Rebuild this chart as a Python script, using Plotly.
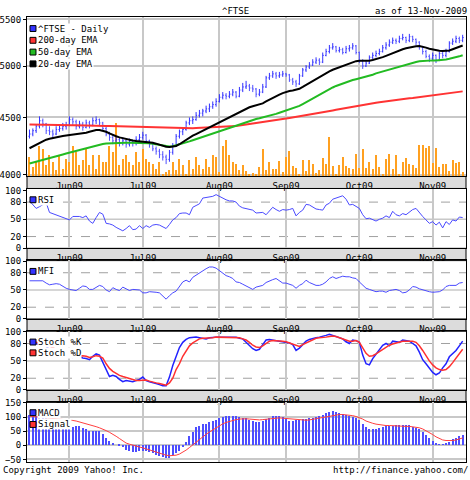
import math
import pandas as pd
import plotly.graph_objects as go

# ---------------- data ----------------
holidays = ["2009-05-25", "2009-08-31"]
dates = [d.strftime("%Y-%m-%d") for d in pd.bdate_range("2009-05-13", "2009-11-13")]
dates = [d for d in dates if d not in holidays]

month_ticks = ["2009-06-01", "2009-07-01", "2009-08-03", "2009-09-01", "2009-10-01", "2009-11-02"]
month_labels = ["Jun09", "Jul09", "Aug09", "Sep09", "Oct09", "Nov09"]

price_open = [
    4330, 4350, 4380, 4420, 4470, 4440, 4380, 4370, 4350, 4390,
    4400, 4420, 4430, 4480, 4460, 4420, 4440, 4410, 4450, 4430,
    4470, 4480, 4450, 4400, 4350, 4320, 4290, 4300, 4270, 4290,
    4260, 4280, 4270, 4300, 4320, 4340, 4290, 4260, 4220, 4200,
    4170, 4150, 4130, 4190, 4250, 4330, 4370, 4390, 4450, 4470,
    4480, 4520, 4540, 4560, 4580, 4600, 4620, 4650, 4690, 4710,
    4700, 4720, 4740, 4700, 4760, 4790, 4800, 4780, 4770, 4720,
    4740, 4790, 4880, 4900, 4920, 4900, 4910, 4920, 4910, 4860,
    4840, 4820, 4900, 4960, 4990, 5010, 5040, 5060, 5040, 5110,
    5150, 5190, 5200, 5160, 5170, 5140, 5180, 5190, 5210, 5140,
    5050, 5000, 5030, 5090, 5110, 5130, 5150, 5190, 5220, 5250,
    5270, 5260, 5290, 5300, 5270, 5310, 5280, 5250, 5200, 5150,
    5100, 5080, 5110, 5060, 5130, 5110, 5150, 5240, 5260, 5290, 5270]
price_high = [
    4390, 4400, 4440, 4510, 4490, 4450, 4420, 4390, 4420, 4430,
    4450, 4460, 4510, 4500, 4480, 4470, 4460, 4480, 4470, 4500,
    4510, 4490, 4460, 4420, 4370, 4340, 4330, 4320, 4320, 4300,
    4310, 4300, 4330, 4350, 4370, 4350, 4300, 4280, 4240, 4220,
    4200, 4170, 4210, 4270, 4350, 4390, 4410, 4470, 4500, 4510,
    4550, 4570, 4580, 4610, 4630, 4650, 4680, 4720, 4740, 4730,
    4750, 4770, 4750, 4790, 4830, 4850, 4820, 4810, 4780, 4770,
    4820, 4900, 4930, 4950, 4940, 4940, 4950, 4930, 4920, 4880,
    4860, 4920, 4980, 5010, 5040, 5070, 5090, 5080, 5140, 5180,
    5220, 5240, 5210, 5200, 5190, 5210, 5220, 5240, 5220, 5150,
    5070, 5060, 5110, 5140, 5160, 5180, 5220, 5250, 5280, 5300,
    5290, 5320, 5340, 5310, 5340, 5320, 5290, 5260, 5210, 5170,
    5120, 5140, 5120, 5150, 5150, 5180, 5260, 5290, 5320, 5310, 5330]
price_low = [
    4310, 4330, 4360, 4400, 4410, 4350, 4340, 4320, 4340, 4370,
    4380, 4390, 4420, 4430, 4390, 4400, 4380, 4400, 4400, 4420,
    4440, 4420, 4380, 4330, 4290, 4260, 4270, 4240, 4250, 4230,
    4240, 4240, 4250, 4280, 4300, 4270, 4230, 4200, 4170, 4140,
    4120, 4090, 4110, 4170, 4240, 4310, 4340, 4380, 4430, 4440,
    4470, 4500, 4510, 4540, 4550, 4580, 4600, 4640, 4670, 4670,
    4680, 4700, 4680, 4690, 4740, 4770, 4750, 4740, 4690, 4700,
    4730, 4780, 4860, 4880, 4870, 4880, 4890, 4890, 4840, 4810,
    4790, 4810, 4890, 4940, 4970, 5000, 5020, 5010, 5030, 5100,
    5130, 5170, 5140, 5140, 5120, 5130, 5150, 5170, 5120, 5030,
    4970, 4990, 5020, 5070, 5090, 5110, 5140, 5170, 5200, 5230,
    5230, 5240, 5270, 5240, 5250, 5250, 5220, 5170, 5120, 5080,
    5040, 5060, 5030, 5050, 5080, 5090, 5140, 5220, 5240, 5240, 5250]
price_close = [
    4350, 4380, 4420, 4470, 4440, 4380, 4370, 4350, 4390, 4400,
    4420, 4430, 4480, 4460, 4420, 4440, 4410, 4450, 4430, 4470,
    4480, 4450, 4400, 4350, 4320, 4290, 4300, 4270, 4290, 4260,
    4280, 4270, 4300, 4320, 4340, 4290, 4260, 4220, 4200, 4170,
    4150, 4130, 4190, 4250, 4330, 4370, 4390, 4450, 4470, 4480,
    4520, 4540, 4560, 4580, 4600, 4620, 4650, 4690, 4710, 4700,
    4720, 4740, 4700, 4760, 4790, 4800, 4780, 4770, 4720, 4740,
    4790, 4880, 4900, 4920, 4900, 4910, 4920, 4910, 4860, 4840,
    4820, 4900, 4960, 4990, 5010, 5040, 5060, 5040, 5110, 5150,
    5190, 5200, 5160, 5170, 5140, 5180, 5190, 5210, 5140, 5050,
    5000, 5030, 5090, 5110, 5130, 5150, 5190, 5220, 5250, 5270,
    5260, 5290, 5300, 5270, 5310, 5280, 5250, 5200, 5150, 5100,
    5080, 5110, 5060, 5130, 5110, 5150, 5240, 5260, 5290, 5270, 5300]
volume = [
    19, 9, 14, 31, 27, 11, 21, 14, 6, 21,
    7, 17, 14, 31, 24, 11, 16, 27, 11, 21,
    7, 21, 14, 14, 31, 24, 54, 11, 17, 21,
    14, 11, 24, 14, 27, 17, 14, 12, 7, 14,
    2, 4, 6, 14, 6, 17, 11, 2, 16, 7,
    19, 11, 7, 17, 9, 21, 19, 4, 31, 37,
    21, 14, 12, 6, 11, 5, 1, 3, 1, 9,
    27, 6, 14, 7, 7, 15, 4, 19, 25, 10,
    8, 1, 16, 5, 16, 12, 3, 6, 18, 12,
    40, 10, 2, 11, 19, 10, 8, 7, 22, 8,
    27, 8, 14, 7, 21, 9, 1, 17, 22, 7,
    21, 2, 14, 18, 12, 11, 8, 32, 32, 29,
    31, 13, 28, 9, 12, 12, 5, 16, 13, 14, 4]
ema200 = [
    4435, 4435, 4434, 4434, 4433, 4433, 4432, 4432, 4431, 4431,
    4430, 4430, 4429, 4429, 4428, 4428, 4427, 4427, 4426, 4426,
    4425, 4424, 4423, 4422, 4421, 4420, 4419, 4418, 4417, 4416,
    4415, 4414, 4413, 4412, 4411, 4410, 4409, 4408, 4407, 4406,
    4405, 4404, 4403, 4403, 4402, 4402, 4402, 4402, 4402, 4402,
    4403, 4404, 4405, 4406, 4407, 4408, 4409, 4410, 4411, 4413,
    4415, 4418, 4421, 4426, 4430, 4435, 4440, 4445, 4449, 4454,
    4458, 4463, 4467, 4472, 4476, 4481, 4485, 4490, 4495, 4500,
    4504, 4509, 4513, 4519, 4525, 4531, 4536, 4542, 4548, 4554,
    4560, 4565, 4571, 4577, 4583, 4589, 4594, 4600, 4606, 4612,
    4618, 4623, 4629, 4633, 4638, 4642, 4647, 4651, 4656, 4660,
    4664, 4669, 4673, 4677, 4681, 4684, 4688, 4692, 4696, 4700,
    4704, 4707, 4711, 4715, 4720, 4724, 4729, 4733, 4738, 4742, 4747]
ema50 = [
    4095, 4102, 4110, 4118, 4128, 4135, 4142, 4150, 4158, 4165,
    4172, 4180, 4188, 4195, 4202, 4210, 4218, 4225, 4232, 4240,
    4248, 4255, 4262, 4266, 4268, 4270, 4271, 4271, 4272, 4272,
    4272, 4272, 4272, 4272, 4272, 4270, 4268, 4265, 4260, 4252,
    4245, 4240, 4240, 4243, 4250, 4258, 4266, 4275, 4285, 4295,
    4305, 4315, 4325, 4335, 4345, 4355, 4365, 4375, 4385, 4395,
    4405, 4415, 4428, 4440, 4450, 4460, 4470, 4478, 4486, 4493,
    4500, 4507, 4516, 4525, 4533, 4543, 4553, 4563, 4573, 4583,
    4595, 4608, 4625, 4643, 4660, 4680, 4698, 4716, 4735, 4753,
    4770, 4785, 4800, 4813, 4825, 4837, 4848, 4858, 4867, 4875,
    4882, 4890, 4900, 4912, 4925, 4935, 4945, 4955, 4965, 4975,
    4985, 4995, 5005, 5015, 5025, 5035, 5042, 5048, 5052, 5055,
    5057, 5058, 5058, 5060, 5063, 5068, 5075, 5082, 5090, 5100, 5112]
ema20 = [
    4225, 4240, 4255, 4270, 4290, 4300, 4308, 4315, 4322, 4328,
    4332, 4336, 4340, 4344, 4346, 4350, 4355, 4362, 4370, 4380,
    4385, 4386, 4380, 4370, 4355, 4340, 4330, 4320, 4312, 4305,
    4298, 4292, 4288, 4285, 4284, 4282, 4278, 4272, 4265, 4255,
    4245, 4238, 4235, 4237, 4245, 4260, 4280, 4300, 4318, 4335,
    4350, 4365, 4380, 4395, 4410, 4425, 4440, 4458, 4475, 4490,
    4505, 4518, 4530, 4548, 4565, 4580, 4595, 4605, 4612, 4620,
    4632, 4650, 4668, 4685, 4700, 4715, 4730, 4742, 4750, 4755,
    4760, 4772, 4790, 4810, 4830, 4850, 4870, 4885, 4905, 4925,
    4945, 4962, 4975, 4988, 5000, 5012, 5025, 5040, 5050, 5055,
    5055, 5052, 5055, 5062, 5070, 5080, 5092, 5105, 5120, 5135,
    5150, 5163, 5175, 5185, 5195, 5202, 5207, 5208, 5202, 5192,
    5180, 5172, 5162, 5158, 5155, 5155, 5162, 5175, 5190, 5202, 5215]
rsi = [
    82, 75, 69, 72, 76, 79, 62, 60, 57, 56,
    54, 51, 49, 55, 55, 55, 53, 56, 47, 43,
    53, 62, 59, 43, 42, 40, 36, 33, 30, 34,
    39, 32, 33, 39, 34, 39, 36, 40, 41, 40,
    37, 34, 41, 49, 53, 60, 61, 61, 58, 71,
    74, 77, 87, 88, 88, 90, 93, 90, 86, 84,
    82, 82, 80, 73, 70, 69, 68, 66, 61, 61,
    62, 58, 64, 71, 67, 64, 67, 66, 67, 69,
    56, 62, 66, 76, 75, 71, 68, 67, 66, 75,
    78, 85, 87, 88, 91, 85, 75, 76, 72, 69,
    58, 51, 52, 50, 47, 50, 52, 56, 53, 64,
    58, 56, 60, 58, 62, 67, 69, 61, 55, 49,
    43, 46, 40, 45, 35, 46, 41, 49, 47, 54, 53]
mfi = [
    66, 66, 66, 65, 66, 62, 59, 60, 61, 60,
    56, 53, 51, 50, 49, 53, 57, 56, 51, 51,
    55, 58, 56, 50, 47, 54, 51, 49, 55, 52,
    49, 51, 51, 50, 45, 45, 47, 47, 46, 45,
    40, 34, 40, 45, 48, 56, 64, 67, 64, 72,
    76, 80, 84, 87, 90, 90, 88, 84, 79, 75,
    73, 70, 64, 63, 60, 57, 54, 51, 55, 56,
    58, 63, 66, 68, 70, 66, 62, 62, 60, 58,
    53, 58, 61, 67, 63, 60, 58, 58, 60, 64,
    70, 73, 70, 72, 74, 73, 73, 71, 70, 64,
    59, 53, 51, 49, 47, 48, 48, 46, 49, 50,
    51, 49, 45, 46, 50, 56, 55, 52, 50, 48,
    47, 46, 46, 47, 50, 56, 58, 58, 58, 62, 63]
stoch_k = [
    84, 83, 80, 78, 80, 75, 70, 72, 68, 65,
    62, 60, 58, 56, 60, 57, 55, 54, 52, 58,
    62, 60, 48, 34, 23, 25, 23, 18, 14, 16,
    15, 14, 16, 18, 22, 16, 14, 13, 11, 9,
    7, 7, 22, 42, 57, 73, 82, 87, 90, 91,
    91, 90, 89, 88, 90, 91, 91, 91, 91, 90,
    90, 91, 91, 89, 88, 82, 77, 71, 68, 70,
    78, 86, 87, 86, 85, 84, 84, 83, 81, 78,
    68, 72, 79, 84, 87, 89, 90, 91, 92, 94,
    96, 94, 93, 90, 88, 83, 80, 86, 85, 82,
    60, 45, 43, 54, 62, 70, 77, 80, 76, 84,
    83, 82, 86, 85, 84, 80, 76, 65, 52, 45,
    38, 30, 26, 29, 38, 45, 57, 63, 68, 76, 84]
stoch_d = [
    82, 83, 82, 80, 79, 78, 75, 72, 70, 68,
    66, 64, 62, 60, 59, 58, 59, 58, 56, 57,
    59, 58, 55, 45, 37, 32, 28, 25, 23, 21,
    19, 17, 16, 16, 17, 17, 15, 13, 12, 11,
    9, 8, 12, 20, 35, 45, 58, 67, 76, 81,
    85, 88, 89, 89, 89, 90, 91, 91, 91, 91,
    91, 90, 90, 90, 88, 86, 82, 77, 74, 73,
    76, 80, 84, 85, 85, 85, 84, 83, 81, 78,
    76, 75, 78, 81, 84, 87, 89, 90, 90, 91,
    92, 93, 92, 90, 88, 86, 84, 84, 85, 82,
    72, 63, 58, 59, 62, 66, 70, 74, 77, 79,
    81, 82, 84, 84, 84, 84, 82, 76, 68, 58,
    50, 43, 38, 35, 34, 35, 40, 47, 54, 62, 70]
macd = [
    106, 107, 103, 102, 100, 96, 93, 90, 82, 77,
    72, 65, 60, 62, 68, 66, 60, 56, 51, 50,
    50, 48, 38, 26, 14, 6, 0, -2, -8, -18,
    -23, -26, -25, -22, -21, -20, -24, -30, -35, -40,
    -43, -45, -46, -37, -28, -20, -8, 10, 30, 44,
    62, 68, 73, 75, 80, 85, 90, 95, 98, 101,
    102, 103, 101, 98, 97, 95, 89, 85, 82, 82,
    86, 91, 97, 102, 103, 102, 98, 92, 86, 84,
    87, 90, 92, 93, 94, 95, 98, 101, 106, 113,
    118, 119, 117, 113, 109, 105, 102, 99, 95, 88,
    75, 63, 58, 58, 58, 60, 64, 67, 67, 68,
    69, 69, 70, 70, 69, 65, 60, 56, 46, 35,
    24, 14, 6, 3, 3, 5, 12, 20, 26, 30, 36]
signal = [
    103, 102, 101, 100, 99, 98, 97, 96, 95, 93,
    92, 90, 89, 88, 86, 83, 80, 77, 74, 70,
    66, 62, 58, 52, 46, 40, 32, 24, 16, 8,
    4, 0, -3, -6, -9, -12, -16, -20, -24, -28,
    -32, -35, -37, -37, -35, -31, -25, -17, -8, 2,
    12, 22, 31, 39, 47, 55, 63, 70, 76, 81,
    85, 88, 91, 93, 94, 94, 93, 92, 90, 90,
    91, 92, 94, 96, 97, 97, 96, 95, 93, 91,
    90, 89, 89, 89, 90, 92, 94, 96, 99, 102,
    104, 106, 108, 109, 109, 108, 107, 105, 102, 98,
    93, 86, 81, 78, 75, 73, 71, 70, 70, 69,
    69, 68, 68, 67, 67, 66, 65, 62, 58, 52,
    45, 38, 30, 24, 19, 17, 16, 17, 19, 22, 26]

price_ticks = [4000, 4500, 5000, 5500]
osc_ticks = [0, 20, 50, 80, 100]
macd_ticks = [-50, 0, 50, 100, 150]

# ---------------- styling / layout helpers ----------------
W, H, L, R = 470, 480, 26, 4
PW = W - L - R
FONT = dict(family="DejaVu Sans Mono", size=9, color="black")
BLUE, RED, GREEN, BLACK = "#3333ff", "#ff3333", "#22bb22", "#000000"
GRID = "#c8c8c8"


def fx(p):
    return (p - L) / PW


def fy(p):
    return 1 - p / H


panels = {"main": (13.5, 175.5), "rsi": (189, 249), "mfi": (261, 321),
          "sto": (333, 393.5), "macd": (406, 467)}


def dom(name):
    t, b = panels[name]
    return [fy(b), fy(t)]


fig = go.Figure()

# main panel
fig.add_trace(go.Bar(x=dates, y=volume, marker=dict(color="#ffa020", line=dict(width=0)),
                     width=0.32, xaxis="x", yaxis="y", hoverinfo="skip"))
fig.add_trace(go.Ohlc(x=dates, open=price_open, high=price_high, low=price_low, close=price_close,
                      xaxis="x", yaxis="y6", tickwidth=0.3,
                      increasing=dict(line=dict(color=BLUE, width=1)),
                      decreasing=dict(line=dict(color="#5050ff", width=1))))
for series, col in [(ema200, RED), (ema50, GREEN), (ema20, BLACK)]:
    fig.add_trace(go.Scatter(x=dates, y=series, mode="lines", line=dict(color=col, width=2),
                             xaxis="x", yaxis="y6"))

# RSI / MFI
fig.add_trace(go.Scatter(x=dates, y=rsi, mode="lines", line=dict(color="#4a4aff", width=1),
                         xaxis="x2", yaxis="y2"))
fig.add_trace(go.Scatter(x=dates, y=mfi, mode="lines", line=dict(color="#4a4aff", width=1),
                         xaxis="x3", yaxis="y3"))
# Stochastic
fig.add_trace(go.Scatter(x=dates, y=stoch_k, mode="lines", line=dict(color="#2222ff", width=1.5),
                         xaxis="x4", yaxis="y4"))
fig.add_trace(go.Scatter(x=dates, y=stoch_d, mode="lines", line=dict(color="#ff3030", width=1.5),
                         xaxis="x4", yaxis="y4"))
# MACD
fig.add_trace(go.Bar(x=dates, y=macd, marker=dict(color="#4d4dff", line=dict(width=0)), width=0.32,
                     xaxis="x5", yaxis="y5"))
fig.add_trace(go.Scatter(x=dates, y=signal, mode="lines", line=dict(color="#ff4040", width=1),
                         xaxis="x5", yaxis="y5"))

xcommon = dict(type="category", range=[-0.75, 131], tickmode="array", tickvals=month_ticks,
               ticktext=month_labels, showgrid=True, gridcolor=GRID, gridwidth=1.5,
               showline=True, mirror=True, linecolor="black", linewidth=1, ticks="",
               tickfont=FONT, zeroline=False, fixedrange=True, categoryorder="array",
               categoryarray=dates, ticklabelstandoff=1)
ycommon = dict(showline=True, mirror=True, linecolor="black", linewidth=1, ticks="outside",
               ticklen=3, tickcolor="black", tickfont=FONT, zeroline=False, fixedrange=True)

layout = dict(
    width=W, height=H, margin=dict(l=L, r=R, t=0, b=0), showlegend=False,
    plot_bgcolor="white", paper_bgcolor="white", font=FONT, bargap=0,
    xaxis=dict(xcommon, anchor="y", rangeslider=dict(visible=False)),
    xaxis2=dict(xcommon, anchor="y2", matches="x"),
    xaxis3=dict(xcommon, anchor="y3", matches="x"),
    xaxis4=dict(xcommon, anchor="y4", matches="x"),
    xaxis5=dict(xcommon, anchor="y5", matches="x", showticklabels=False),
    yaxis=dict(domain=dom("main"), range=[0, 162], visible=False, anchor="x", fixedrange=True),
    yaxis6=dict(ycommon, overlaying="y", anchor="x", side="left", type="log",
                range=[math.log10(3990), math.log10(5525)], tickmode="array",
                tickvals=price_ticks, ticktext=[str(v) for v in price_ticks],
                showgrid=True, gridcolor=GRID, gridwidth=1.5),
    yaxis2=dict(ycommon, domain=dom("rsi"), anchor="x2", range=[-0.5, 102], tickmode="array",
                tickvals=osc_ticks, showgrid=False),
    yaxis3=dict(ycommon, domain=dom("mfi"), anchor="x3", range=[-0.5, 102], tickmode="array",
                tickvals=osc_ticks, showgrid=False),
    yaxis4=dict(ycommon, domain=dom("sto"), anchor="x4", range=[-0.5, 102], tickmode="array",
                tickvals=osc_ticks, showgrid=False),
    yaxis5=dict(ycommon, domain=dom("macd"), anchor="x5", range=[-60, 152], tickmode="array",
                tickvals=macd_ticks, showgrid=True, gridcolor=GRID, gridwidth=1.5),
)

shapes = []
# guide lines on oscillator panels
for k in (2, 3, 4):
    for v, dash, col, w in [(20, "dash", "#a0a0a0", 1), (80, "dash", "#a0a0a0", 1), (50, "solid", GRID, 1.5)]:
        shapes.append(dict(type="line", xref=f"x{k} domain", x0=0, x1=1, yref=f"y{k}", y0=v, y1=v,
                           line=dict(color=col, width=w, dash=dash), layer="below"))
# grey date bands below panels
for name in ("main", "rsi", "mfi", "sto"):
    b = panels[name][1]
    shapes.append(dict(type="rect", xref="paper", yref="paper", x0=0, x1=1, y0=fy(b + 12.5), y1=fy(b),
                       fillcolor="#dcdcdc", line=dict(color="black", width=1), layer="below"))

annotations = []
legend_items = [
    ("^FTSE - Daily", BLUE, 25), ("200-day EMA", RED, 37), ("50-day EMA", GREEN, 49),
    ("20-day EMA", BLACK, 61), ("RSI", BLUE, 199.5), ("MFI", BLUE, 272.5),
    ("Stoch %K", BLUE, 344.5), ("Stoch %D", RED, 355.5), ("MACD", BLUE, 416.5), ("Signal", RED, 428.5),
]
for text, col, yc in legend_items:
    shapes.append(dict(type="rect", xref="paper", yref="paper", x0=fx(29), x1=fx(35),
                       y0=fy(yc + 3), y1=fy(yc - 3), fillcolor=col,
                       line=dict(color="black", width=1), layer="above"))
    annotations.append(dict(text=text, x=fx(36), y=fy(yc), xref="paper", yref="paper",
                            xanchor="left", yanchor="middle", showarrow=False, font=FONT,
                            bgcolor="white", borderpad=0))

annotations += [
    dict(text="^FTSE", x=fx(235), y=fy(7), xanchor="center", yanchor="middle"),
    dict(text="as of 13-Nov-2009", x=fx(469), y=fy(7), xanchor="right", yanchor="middle"),
    dict(text="Copyright 2009 Yahoo! Inc.", x=fx(0), y=fy(475), xanchor="left", yanchor="middle"),
    dict(text="http://finance.yahoo.com/", x=fx(470), y=fy(475), xanchor="right", yanchor="middle"),
]
for a in annotations[-4:]:
    a.update(xref="paper", yref="paper", showarrow=False, font=FONT)

layout["shapes"] = shapes
layout["annotations"] = annotations
fig.update_layout(**layout)
fig.write_html("out.html")
